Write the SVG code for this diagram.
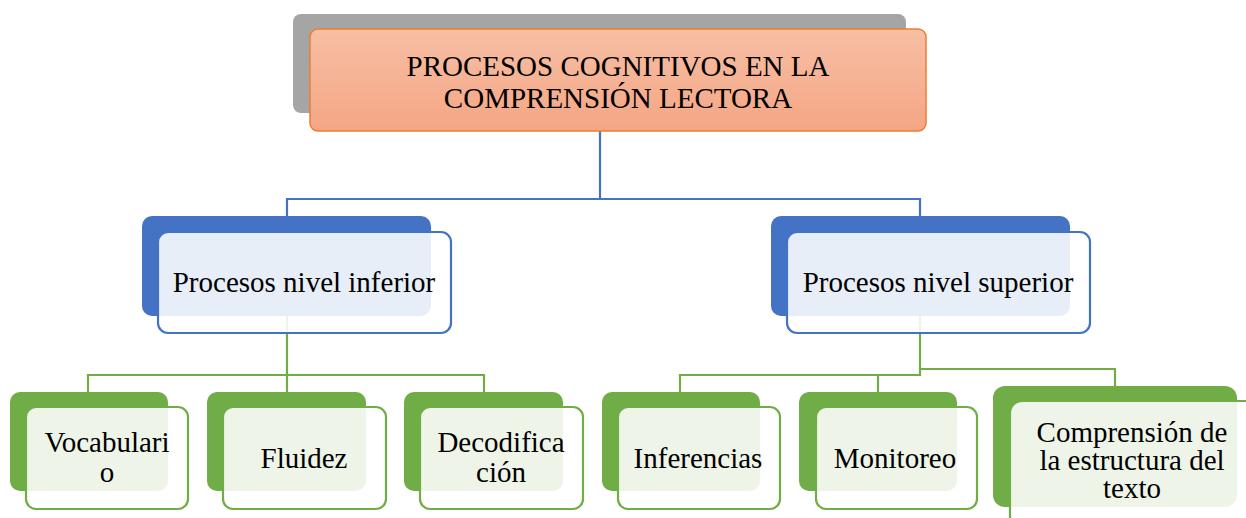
<svg xmlns="http://www.w3.org/2000/svg" width="1246" height="518" viewBox="0 0 1246 518">
  <defs>
    <linearGradient id="orangeGrad" x1="0" y1="0" x2="0" y2="1">
      <stop offset="0" stop-color="#f7bfa5"/>
      <stop offset="1" stop-color="#f4a684"/>
    </linearGradient>
    <style>
      .txt { font-family: "Liberation Serif", "Times New Roman", serif; font-size: 29px; fill: #000; text-anchor: middle; }
      .blueLine { fill: none; stroke: #4472c4; stroke-width: 2.2; }
      .greenLine { fill: none; stroke: #70ad47; stroke-width: 2.2; }
      .backBlue { fill: #4472c4; }
      .frontBlue { fill: #ffffff; fill-opacity: 0.88; stroke: #4472c4; stroke-width: 2.2; }
      .backGreen { fill: #70ad47; }
      .frontGreen { fill: #ffffff; fill-opacity: 0.88; stroke: #70ad47; stroke-width: 2.2; }
    </style>
  </defs>
  <rect width="1246" height="518" fill="#ffffff"/>

  <g id="connectors">
    <path class="blueLine" d="M600,131 V199 M287,216 V199 H920 V216"/>
    <path class="greenLine" d="M287,316 V375 M88,392 V375 H484 V392 M287,375 V392"/>
    <path class="greenLine" d="M920,316 V375 H680 V392 M878,375 V392 M920,369 H1115 V386"/>
  </g>

  <g id="node-root">
    <rect x="293" y="14" width="613" height="99" rx="8" fill="#a5a5a5"/>
    <rect x="310" y="29" width="616" height="102" rx="8" fill="url(#orangeGrad)" stroke="#ed7d31" stroke-width="1.5"/>
    <text class="txt" x="618" y="76">PROCESOS COGNITIVOS EN LA</text>
    <text class="txt" x="618" y="108">COMPRENSIÓN LECTORA</text>
  </g>

  <g id="node-inferior">
    <rect class="backBlue" x="142" y="216" width="289" height="100" rx="10"/>
    <rect class="frontBlue" x="158" y="232" width="293" height="101" rx="10"/>
    <text class="txt" x="304" y="292">Procesos nivel inferior</text>
  </g>

  <g id="node-superior">
    <rect class="backBlue" x="771" y="216" width="299" height="100" rx="10"/>
    <rect class="frontBlue" x="787" y="232" width="303" height="101" rx="10"/>
    <text class="txt" x="938" y="292">Procesos nivel superior</text>
  </g>

  <g id="node-vocabulario">
    <rect class="backGreen" x="10" y="392" width="158" height="99" rx="10"/>
    <rect class="frontGreen" x="26" y="407" width="162" height="102" rx="10"/>
    <text class="txt" x="107" y="452">Vocabulari</text>
    <text class="txt" x="107" y="482">o</text>
  </g>

  <g id="node-fluidez">
    <rect class="backGreen" x="207" y="392" width="159" height="99" rx="10"/>
    <rect class="frontGreen" x="223" y="407" width="163" height="102" rx="10"/>
    <text class="txt" x="304" y="468">Fluidez</text>
  </g>

  <g id="node-decodificacion">
    <rect class="backGreen" x="404" y="392" width="159" height="99" rx="10"/>
    <rect class="frontGreen" x="420" y="407" width="163" height="102" rx="10"/>
    <text class="txt" x="501" y="452">Decodifica</text>
    <text class="txt" x="501" y="482">ción</text>
  </g>

  <g id="node-inferencias">
    <rect class="backGreen" x="602" y="392" width="158" height="99" rx="10"/>
    <rect class="frontGreen" x="618" y="407" width="162" height="102" rx="10"/>
    <text class="txt" x="698" y="468">Inferencias</text>
  </g>

  <g id="node-monitoreo">
    <rect class="backGreen" x="799" y="392" width="158" height="99" rx="10"/>
    <rect class="frontGreen" x="816" y="407" width="161" height="102" rx="10"/>
    <text class="txt" x="895" y="468">Monitoreo</text>
  </g>

  <g id="node-estructura">
    <rect class="backGreen" x="993" y="386" width="244" height="121" rx="12"/>
    <rect class="frontGreen" x="1010" y="401" width="250" height="130" rx="12"/>
    <text class="txt" x="1132" y="442">Comprensión de</text>
    <text class="txt" x="1132" y="470">la estructura del</text>
    <text class="txt" x="1132" y="498">texto</text>
  </g>
</svg>
